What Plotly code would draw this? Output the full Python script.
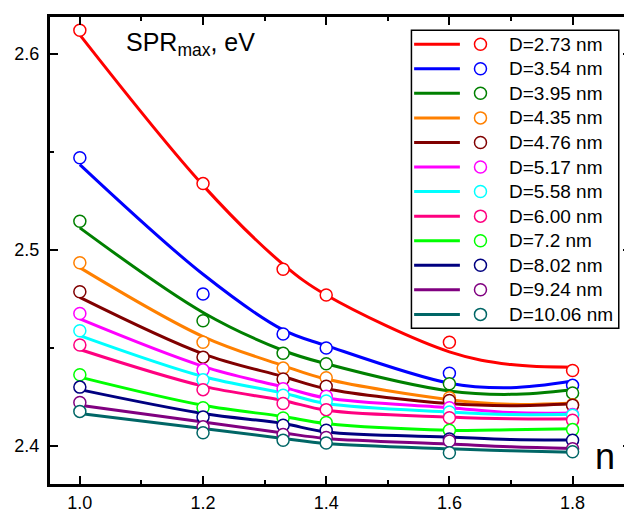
import plotly.graph_objects as go

# ---- data ----
names = ["D=2.73 nm", "D=3.54 nm", "D=3.95 nm", "D=4.35 nm", "D=4.76 nm", "D=5.17 nm",
         "D=5.58 nm", "D=6.00 nm", "D=7.2 nm", "D=8.02 nm", "D=9.24 nm", "D=10.06 nm"]
colors = ["#FF0000", "#0000FF", "#008000", "#FF8000", "#800000", "#FF00FF",
          "#00FFFF", "#FF0080", "#00FF00", "#000080", "#800080", "#006666"]

n_points = [1.0, 1.2, 1.33, 1.4, 1.6, 1.8]
spr_points = [
    [2.6122, 2.5339, 2.4902, 2.4770, 2.4529, 2.4385],
    [2.5471, 2.4775, 2.4571, 2.4500, 2.4371, 2.4309],
    [2.5147, 2.4639, 2.4473, 2.4419, 2.4317, 2.4270],
    [2.4935, 2.4529, 2.4397, 2.4348, 2.4246, 2.4210],
    [2.4787, 2.4453, 2.4341, 2.4304, 2.4232, 2.4207],
    [2.4676, 2.4388, 2.4292, 2.4253, 2.4195, 2.4160],
    [2.4588, 2.4337, 2.4258, 2.4229, 2.4173, 2.4156],
    [2.4515, 2.4287, 2.4216, 2.4185, 2.4144, 2.4131],
    [2.4363, 2.4195, 2.4142, 2.4119, 2.4080, 2.4083],
    [2.4300, 2.4148, 2.4105, 2.4080, 2.4035, 2.4029],
    [2.4221, 2.4097, 2.4058, 2.4043, 2.4025, 2.3985],
    [2.4176, 2.4067, 2.4029, 2.4015, 2.3965, 2.3970],
]

n_curve = [1.0, 1.2, 1.33, 1.4, 1.6, 1.7, 1.8]
spr_curve = [
    [2.6098, 2.5330, 2.4927, 2.4770, 2.4480, 2.4415, 2.4402],
    [2.5436, 2.4876, 2.4592, 2.4512, 2.4320, 2.4297, 2.4331],
    [2.5113, 2.4681, 2.4487, 2.4419, 2.4280, 2.4263, 2.4287],
    [2.4910, 2.4558, 2.4410, 2.4341, 2.4236, 2.4212, 2.4219],
    [2.4758, 2.4470, 2.4354, 2.4292, 2.4216, 2.4205, 2.4215],
    [2.4648, 2.4406, 2.4300, 2.4244, 2.4195, 2.4170, 2.4168],
    [2.4563, 2.4354, 2.4270, 2.4216, 2.4173, 2.4160, 2.4161],
    [2.4492, 2.4305, 2.4232, 2.4182, 2.4147, 2.4138, 2.4139],
    [2.4351, 2.4207, 2.4150, 2.4114, 2.4080, 2.4082, 2.4088],
    [2.4287, 2.4165, 2.4114, 2.4071, 2.4045, 2.4032, 2.4030],
    [2.4207, 2.4122, 2.4066, 2.4038, 2.4010, 2.3995, 2.3987],
    [2.4165, 2.4089, 2.4038, 2.4012, 2.3985, 2.3975, 2.3967],
]

x_ticks = [1.0, 1.2, 1.4, 1.6, 1.8]
y_ticks = [2.4, 2.5, 2.6]

# ---- layout constants (screen pixels; page body has an 8px margin) ----
W, H = 632, 512
OFF = 8
SL, SR, ST, SB = 50, 634, 15, 484   # plot-area edges as seen on screen
FONT = "Arial, Liberation Sans, sans-serif"


def px(x):
    return (x - SL) / (SR - SL)


def py(y):
    return (SB - y) / (SB - ST)


fig = go.Figure()

for i in range(len(names)):
    fig.add_trace(go.Scatter(x=n_curve, y=spr_curve[i], mode="lines",
                             line=dict(color=colors[i], width=3, shape="spline", smoothing=1.0),
                             name=names[i], showlegend=False, hoverinfo="skip"))
for i in range(len(names)):
    fig.add_trace(go.Scatter(x=n_points, y=spr_points[i], mode="markers",
                             marker=dict(symbol="circle", size=12, color="white",
                                         line=dict(color=colors[i], width=1.5)),
                             name=names[i], showlegend=False))

# ---- custom legend (line sample, open circle, label) ----
shapes = [dict(type="rect", xref="paper", yref="paper",
               x0=px(413.3), x1=px(621.7), y0=py(327.7), y1=py(28.3),
               line=dict(color="black", width=1.5), fillcolor="white", layer="above")]
annotations = []
row0, row_step = 42.3, 24.67
for i in range(len(names)):
    yy = py(row0 + row_step * i)
    shapes.append(dict(type="line", xref="paper", yref="paper", x0=px(416), x1=px(462),
                       y0=yy, y1=yy, line=dict(color=colors[i], width=3), layer="above"))
    shapes.append(dict(type="circle", xref="paper", yref="paper",
                       xsizemode="pixel", ysizemode="pixel",
                       xanchor=px(482.7), yanchor=yy, x0=-6, x1=6, y0=-6, y1=6,
                       line=dict(color=colors[i], width=1.5), fillcolor="white", layer="above"))
    annotations.append(dict(xref="paper", yref="paper", x=px(509), y=yy,
                            xanchor="left", yanchor="middle", showarrow=False,
                            text=names[i], font=dict(size=19, color="black", family=FONT)))

annotations.append(dict(xref="paper", yref="paper", x=px(124), y=py(42),
                        xanchor="left", yanchor="middle", showarrow=False,
                        text="SPR<sub>max</sub>, eV", font=dict(size=25, color="black", family=FONT)))
annotations.append(dict(xref="paper", yref="paper", x=px(608), y=py(456),
                        xanchor="center", yanchor="middle", showarrow=False,
                        text="n", font=dict(size=36, color="black", family=FONT)))

axis_common = dict(showline=True, linecolor="black", linewidth=3, mirror="ticks",
                   ticks="inside", ticklen=8, tickwidth=2, tickcolor="black",
                   showgrid=False, zeroline=False, tickformat=".1f",
                   tickfont=dict(size=18, color="black", family=FONT))

fig.update_xaxes(range=[0.95154, 1.89485], tickvals=x_ticks, ticklabelstandoff=0,
                 minor=dict(ticks="inside", ticklen=4, tickwidth=2, tickcolor="black", dtick=0.1, tick0=1.1),
                 **axis_common)
fig.update_yaxes(range=[2.38053, 2.61896], tickvals=y_ticks, ticklabelstandoff=4,
                 minor=dict(ticks="inside", ticklen=4, tickwidth=2, tickcolor="black", dtick=0.05, tick0=2.45),
                 **axis_common)

fig.update_layout(width=W, height=H,
                  margin=dict(l=SL - OFF, r=W - (SR - OFF), t=ST - OFF, b=H - (SB - OFF)),
                  plot_bgcolor="white", paper_bgcolor="white",
                  shapes=shapes, annotations=annotations, showlegend=False,
                  font=dict(family=FONT, color="black"))

fig.write_html("out.html")
